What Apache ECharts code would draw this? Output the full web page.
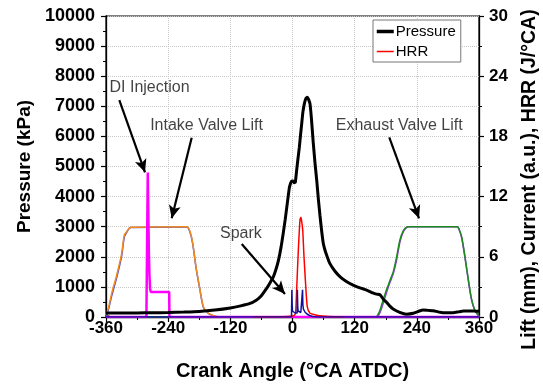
<!DOCTYPE html>
<html>
<head>
<meta charset="utf-8">
<script src="https://cdn.jsdelivr.net/npm/echarts@6/dist/echarts.min.js"></script>
<style>
html,body{margin:0;padding:0;background:#fff;}
#chart{width:543px;height:386px;}
</style>
</head>
<body>
<div id="chart"></div>
<script>
// ---- Data ----
const xTicks = [-360, -240, -120, 0, 120, 240, 360];

// Cylinder pressure (kPa) vs crank angle
const pressureAngle = [-360,-330,-300,-270,-240,-210,-180,-150,-120,-100,-82,-70,-62,-50,-43,-37,-32,-27,-22,-18,-14,-11,-8,-6,-3.5,-1.5,1,3.5,5.5,8,10.5,13.2,15.5,17.7,20,22.8,25.5,28.6,31,33.8,36.5,40,43.5,47,50,53,56,59.5,63,66,72,82,92,104,117,130,143,155,162,169,175,182,188,195,207,220,233,245,252,262,272,281,291,310,320,330,349,360];
const pressureKPa  = [135,133,135,140,150,165,185,230,300,370,450,560,670,950,1150,1335,1580,1890,2330,2770,3250,3650,4050,4300,4450,4520,4520,4460,4480,4870,5250,5640,6050,6410,6800,7080,7250,7300,7230,7080,6600,5800,5100,4500,3900,3380,2900,2440,2200,2050,1780,1520,1335,1180,1060,970,894,800,760,740,600,480,360,260,155,95,122,200,232,220,209,170,142,142,170,199,199,190];

// Heat release rate (J/°CA)
const hrrAngle = [-75,-40,-10,0,4,6,8,11.3,14.5,16.4,17.5,19.7,22.2,26,28.6,33.8,45,53,70,100];
const hrrValue = [0,0.02,0.05,0.1,0.2,0.4,2.7,6.7,9.7,9.95,9.6,8.7,6.0,2.7,1.0,0.37,0.2,0.13,0.05,0];

// Intake valve lift (mm), two traces
const intakeAngle = [-360,-355.5,-349,-339.3,-329.7,-324.6,-320,-312.3,-204.2,-197.8,-192.6,-186.3,-178.5,-172.2,-165.6,-156,-143,360];
const intakeLiftA = [0.2,0.87,2.36,4.19,6.35,8.18,8.5,8.94,9.0,8.5,7.35,5.0,2.7,1.03,0.53,0.2,0.03,0];
const intakeLiftB = [0.15,0.7,2.1,3.95,6.1,8.0,8.45,8.92,8.98,8.45,7.3,4.95,2.65,1.0,0.5,0.18,0.02,0];

// Exhaust valve lift (mm), two traces
const exhaustAngle = [-360,-355,-350,160,165,169,175,180,185,190,195,201,207.5,214,220,225,318,322,326.5,333,339.5,346,352,358.5,360];
const exhaustLiftA = [0.37,0.1,0,0,0.25,0.7,1.7,2.5,3.2,3.9,4.6,6.0,7.7,8.6,8.95,9.0,9.0,8.7,8.0,6.0,3.7,1.7,0.7,0.2,0];
const exhaustLiftB = [0.3,0.08,0,0,0.1,0.45,1.35,2.2,3.0,3.7,4.4,5.7,7.5,8.5,8.9,9.0,9.0,8.65,7.9,5.9,3.6,1.6,0.65,0.15,0];

// DI injector current (a.u.)
const injAngle = [-360,-282,-279.6,-279.4,-279,-278.2,-277.2,-276,-274.8,-273.5,-250,-238,-237.6,360];
const injValue = [0,0,0,14.4,14.4,10,6.3,4.0,2.8,2.5,2.5,2.5,0,0];

// Spark current (a.u.)
const sparkAngle = [-360,-2,-1.2,-0.6,0,2,5,9.0,9.4,10.0,10.7,13,16,19.0,19.4,20.0,21,24,28,33,39,46,360];
const sparkValue = [0,0,2.72,1.2,0.6,0.45,0.4,0.4,2.72,1.2,0.6,0.5,0.45,0.45,2.72,1.2,0.8,0.5,0.3,0.15,0.05,0,0];

// Annotations (data coordinates: deg, kPa)
const annText = ['DI Injection','Intake Valve Lift','Exhaust Valve Lift','Spark'];
const annX = [-276,-166,206,-99.6];
const annY = [7626,6358,6358,2772];
const arrowFromX = [-334.3,-194.6,186.8,-98];
const arrowFromY = [7209,5957,5970,2425];
const arrowToX = [-284.7,-233.2,244.2,-14.5];
const arrowToY = [4807,3279,3279,764];

// ---- Build ----
function pairs(xs, ys){ return xs.map((x,i)=>[x, ys[i]]); }
const FONT = 'Liberation Sans, Arial, sans-serif';

const chart = echarts.init(document.getElementById('chart'), null, {renderer:'canvas'});

const lineBase = {type:'line', symbol:'none', showSymbol:false, animation:false, silent:true};

const option = {
  animation:false,
  backgroundColor:'#fff',
  textStyle:{fontFamily:FONT},
  grid:{left:106, right:64, top:16, bottom:69, show:true, borderColor:'#000', borderWidth:1.2, backgroundColor:'transparent',
        containLabel:false, outerBoundsMode:'none'},
  legend:{
    data:[{name:'Pressure', lineStyle:{width:3.5, color:'#000'}}, {name:'HRR', lineStyle:{width:1.5, color:'#ff0000'}}],
    orient:'vertical', left:373, top:20,
    itemWidth:17, itemHeight:14, itemGap:5,
    padding:[4,5,3,2],
    itemStyle:{opacity:0},
    borderColor:'#777', borderWidth:1, backgroundColor:'#fff',
    textStyle:{fontSize:15, color:'#000', fontFamily:FONT, padding:[0,0,0,-3]},
    selectedMode:false
  },
  xAxis:{
    type:'value', min:-360, max:360, interval:120,
    name:'Crank Angle (°CA ATDC)', nameLocation:'middle', nameGap:44,
    nameTextStyle:{fontSize:20, fontWeight:'bold', color:'#000', fontFamily:FONT},
    axisLine:{show:true, onZero:false, lineStyle:{color:'#000', width:1.3}},
    axisTick:{show:true, length:5, lineStyle:{color:'#000', width:1.2}},
    minorTick:{show:true, splitNumber:2, length:3, lineStyle:{color:'#000', width:1}},
    axisLabel:{fontSize:17, fontWeight:'bold', color:'#000', margin:3, fontFamily:FONT,
      formatter:v=>String(v)},
    splitLine:{show:true, lineStyle:{color:'#c8c8c8', type:'dotted', width:1}}
  },
  yAxis:[{
    type:'value', min:0, max:10000, interval:1000, position:'left',
    name:'Pressure (kPa)', nameLocation:'middle', nameGap:68, nameRotate:90,
    nameTextStyle:{fontSize:19, fontWeight:'bold', color:'#000', fontFamily:FONT},
    axisLine:{show:true, onZero:false, lineStyle:{color:'#000', width:1.3}},
    axisTick:{show:true, length:5, lineStyle:{color:'#000', width:1.2}},
    minorTick:{show:true, splitNumber:2, length:3, lineStyle:{color:'#000', width:1}},
    axisLabel:{fontSize:18, fontWeight:'bold', color:'#000', margin:11, fontFamily:FONT, formatter:v=>String(v)},
    splitLine:{show:true, lineStyle:{color:'#c8c8c8', type:'dotted', width:1}}
  },{
    type:'value', min:0, max:30, interval:6, position:'right',
    name:'Lift (mm), Current (a.u.), HRR (J/°CA)', nameLocation:'middle', nameGap:41, nameRotate:90,
    nameTextStyle:{fontSize:19.5, fontWeight:'bold', color:'#000', fontFamily:FONT, padding:[0,26,0,0]},
    axisLine:{show:true, onZero:false, lineStyle:{color:'#000', width:1.3}},
    axisTick:{show:true, length:5, lineStyle:{color:'#000', width:1.2}},
    minorTick:{show:true, splitNumber:2, length:3, lineStyle:{color:'#000', width:1}},
    axisLabel:{fontSize:17, fontWeight:'bold', color:'#000', margin:10, fontFamily:FONT, formatter:v=>String(v)},
    splitLine:{show:false}
  }],
  series:[
    Object.assign({}, lineBase, {name:'IntakeB', yAxisIndex:1, data:pairs(intakeAngle,intakeLiftB), smooth:0.3, lineStyle:{color:'#4b4bd6', width:1.5}, z:2}),
    Object.assign({}, lineBase, {name:'IntakeA', yAxisIndex:1, data:pairs(intakeAngle,intakeLiftA), smooth:0.3, lineStyle:{color:'#f28a1e', width:1.5}, z:3}),
    Object.assign({}, lineBase, {name:'ExhaustB', yAxisIndex:1, data:pairs(exhaustAngle,exhaustLiftB), smooth:0.3, lineStyle:{color:'#9a33e6', width:1.5}, z:2}),
    Object.assign({}, lineBase, {name:'ExhaustA', yAxisIndex:1, data:pairs(exhaustAngle,exhaustLiftA), smooth:0.3, lineStyle:{color:'#1e8a1e', width:1.5}, z:3}),
    Object.assign({}, lineBase, {name:'Injection', yAxisIndex:1, data:pairs(injAngle,injValue), lineStyle:{color:'#ff00ff', width:2.5}, z:4}),
    Object.assign({}, lineBase, {name:'HRR', yAxisIndex:1, data:pairs(hrrAngle,hrrValue), smooth:0.2, lineStyle:{color:'#ff0000', width:1.5}, itemStyle:{color:'#ff0000'}, z:5}),
    Object.assign({}, lineBase, {name:'SparkCurrent', yAxisIndex:1, data:pairs(sparkAngle,sparkValue), lineStyle:{color:'#10109a', width:1.5}, z:5}),
    Object.assign({}, lineBase, {name:'Pressure', yAxisIndex:0, data:pairs(pressureAngle,pressureKPa), smooth:0.15, lineStyle:{color:'#000', width:3}, itemStyle:{color:'#000'}, z:6}),
    {
      type:'scatter', name:'annotations', yAxisIndex:0, silent:true, animation:false,
      symbolSize:0, z:7,
      data: annText.map((t,i)=>({value:[annX[i], annY[i]], name:t})),
      label:{show:true, position:'inside', formatter:p=>p.name, fontSize:16, color:'#111', fontFamily:FONT},
      markLine:{
        silent:true, animation:false,
        symbol:['none','arrow'], symbolSize:[9,13],
        label:{show:false},
        lineStyle:{color:'#000', width:2.2, type:'solid'},
        emphasis:{disabled:true},
        data: arrowFromX.map((x,i)=>[{coord:[x, arrowFromY[i]]},{coord:[arrowToX[i], arrowToY[i]]}])
      }
    }
  ]
};
chart.setOption(option);
</script>
</body>
</html>
